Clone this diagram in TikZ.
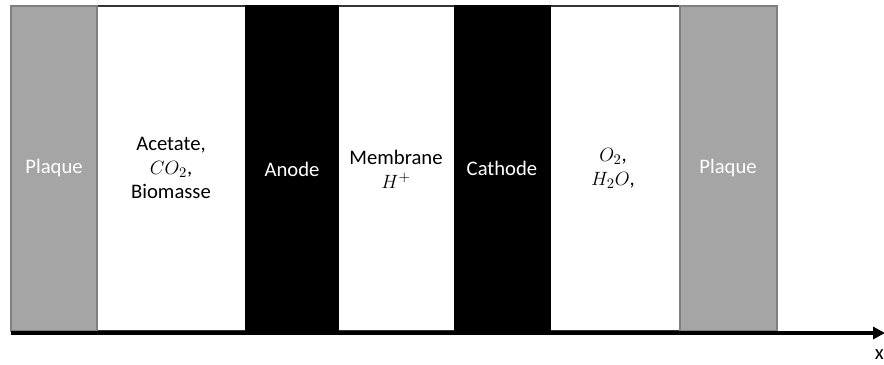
\documentclass[tikz,border=0pt]{standalone}
\usepackage{fontspec}
\setmainfont{Carlito}
\usetikzlibrary{arrows.meta}
\definecolor{plate}{HTML}{A5A5A5}
\definecolor{plateedge}{HTML}{7F7F7F}
\tikzset{
  layer/.style={draw=#1, line width=0.8pt, inner sep=0pt, outer sep=0pt},
  platebox/.style={layer=plateedge, fill=plate},
  whitebox/.style={layer=black!80, fill=white},
  blackbox/.style={layer=black, fill=black},
  lbl/.style={font=\fontsize{15.5}{18}\selectfont, align=center, inner sep=0pt},
  wlbl/.style={lbl, text=white},
  axis/.style={line width=3pt, -{Triangle[length=9pt,width=9pt]}}
}
\begin{document}
\begin{tikzpicture}[x=0.75pt,y=-0.75pt]
\clip (0,0) rectangle (884,364);
\fill[white] (0,0) rectangle (884,364);
% layers
\draw[whitebox] (97,6) rectangle (246,331);
\draw[whitebox] (338,6) rectangle (455,331);
\draw[whitebox] (550,6) rectangle (680,331);
\draw[platebox] (11,6) rectangle (97,331);
\draw[platebox] (680,6) rectangle (777,331);
\draw[blackbox] (246,6) rectangle (338,331);
\draw[blackbox] (455,6) rectangle (550,331);
% labels
\node[wlbl] (plaqueL) at (54,168) {Plaque};
\node[lbl] (acetate) at (171,168) {Acetate,\\ $CO_2$,\\ Biomasse};
\node[wlbl] (anode) at (292,169) {Anode};
\node[lbl] (membrane) at (396,169) {Membrane\\ $H^+$};
\node[wlbl] (cathode) at (502,168) {Cathode};
\node[lbl] (gases) at (613,168) {$O_2$,\\ $H_2O$,};
\node[wlbl] (plaqueR) at (728,168) {Plaque};
% axis
\coordinate (a0) at (11,333);
\coordinate (a1) at (885,333);
\draw[axis] (a0) -- (a1);
\node[lbl, anchor=east] (xlabel) at (884,355) {x};
\end{tikzpicture}
\end{document}
